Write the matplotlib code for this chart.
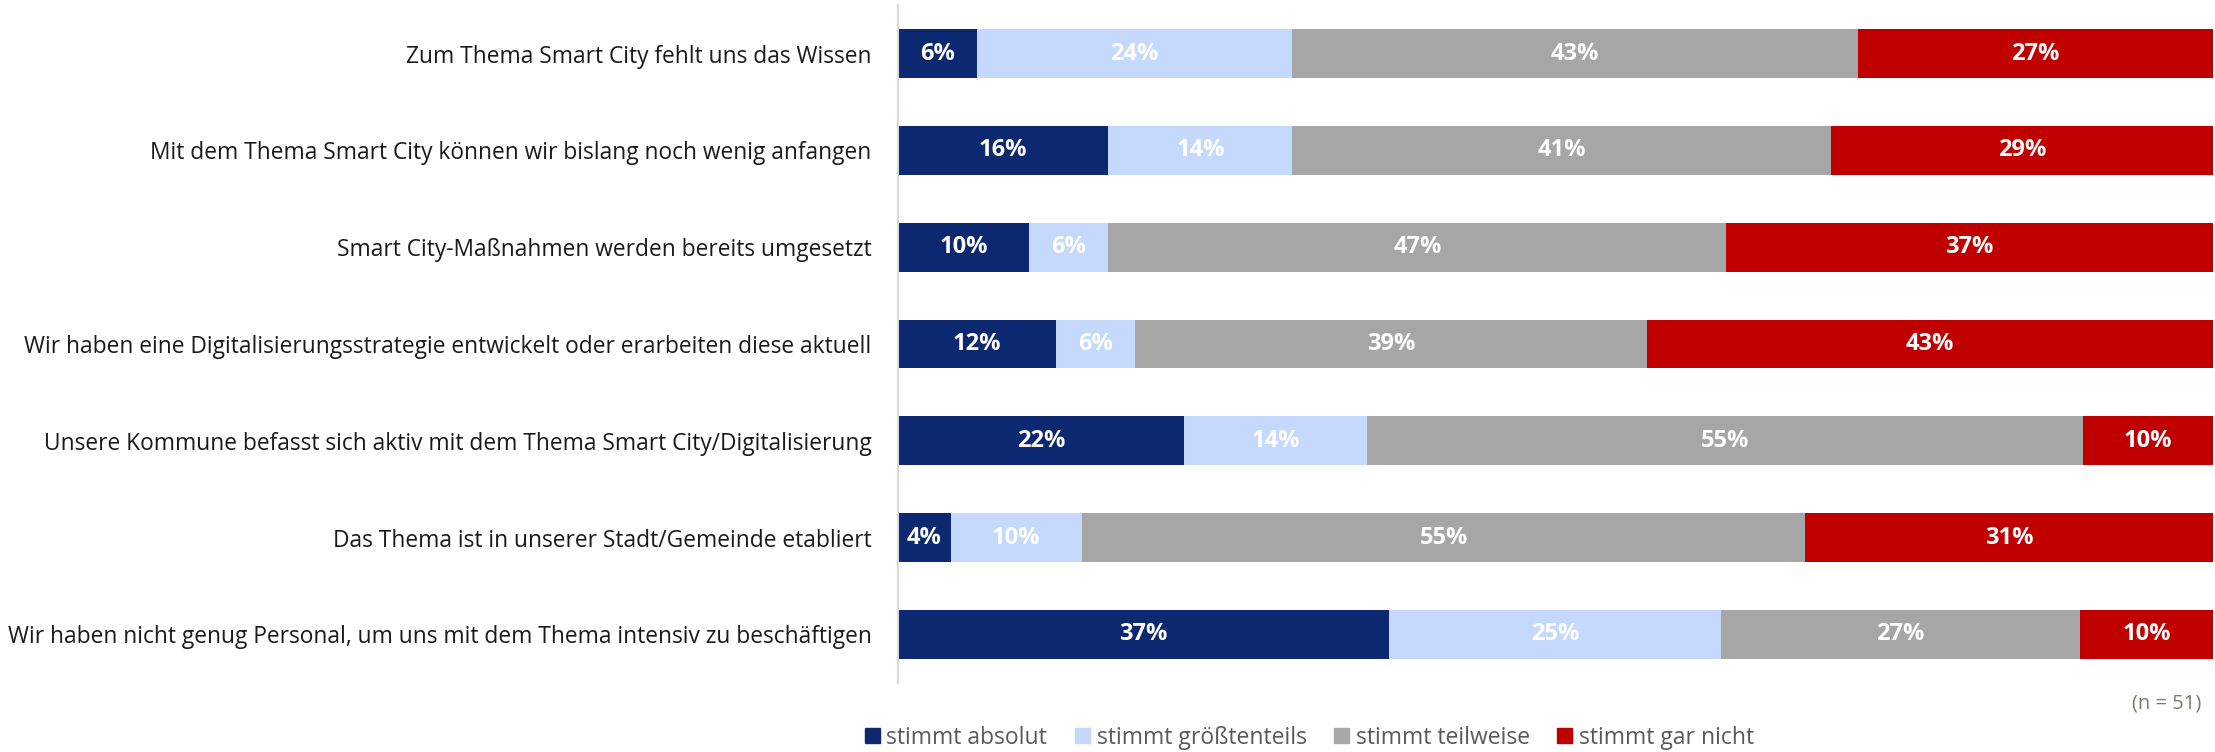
import numpy as np
import matplotlib.pyplot as plt
from matplotlib.patches import Patch

plt.rcParams['font.family'] = ['Open Sans', 'DejaVu Sans']

# Aussagen (von oben nach unten)
aussagen = [
    'Zum Thema Smart City fehlt uns das Wissen',
    'Mit dem Thema Smart City können wir bislang noch wenig anfangen',
    'Smart City-Maßnahmen werden bereits umgesetzt',
    'Wir haben eine Digitalisierungsstrategie entwickelt oder erarbeiten diese aktuell',
    'Unsere Kommune befasst sich aktiv mit dem Thema Smart City/Digitalisierung',
    'Das Thema ist in unserer Stadt/Gemeinde etabliert',
    'Wir haben nicht genug Personal, um uns mit dem Thema intensiv zu beschäftigen',
]
antworten = ['stimmt absolut', 'stimmt größtenteils', 'stimmt teilweise', 'stimmt gar nicht']

absolut = [6, 16, 10, 12, 22, 4, 37]
groesstenteils = [24, 14, 6, 6, 14, 10, 25]
teilweise = [43, 41, 47, 39, 55, 55, 27]
gar_nicht = [27, 29, 37, 43, 10, 31, 10]

farben = ['#0B2870', '#C5D9FC', '#A6A6A6', '#C00000']

werte = np.array([absolut, groesstenteils, teilweise, gar_nicht], dtype=float)
anteile = werte / werte.sum(axis=0) * 100  # Zeilen auf 100 % bringen

fig = plt.figure(figsize=(22.15, 7.52), dpi=100)
ax = fig.add_axes([0.4054, 0.092, 0.5936, 0.901])

y = np.arange(len(aussagen))
links = np.zeros(len(aussagen))
for k in range(4):
    ax.barh(y, anteile[k], left=links, height=0.505, color=farben[k], label=antworten[k])
    for i in range(len(aussagen)):
        ax.text(links[i] + anteile[k][i] / 2, y[i], '%d%%' % werte[k][i],
                ha='center', va='center', color='white', fontsize=17, fontweight='bold')
    links += anteile[k]

ax.set_xlim(0, 100)
ax.set_ylim(6.5, -0.5)
ax.set_yticks(y)
ax.set_yticklabels(aussagen, fontsize=16.4, color='#1a1a1a')
ax.tick_params(axis='y', length=0, pad=19)
ax.set_xticks([])
for s in ['top', 'right', 'bottom']:
    ax.spines[s].set_visible(False)
ax.spines['left'].set_color('#D9D9D9')
ax.spines['left'].set_linewidth(1.5)

handles = [Patch(color=farben[k], label=antworten[k]) for k in range(4)]
fig.legend(handles=handles, loc='center', bbox_to_anchor=(0.5912, 0.019), ncol=4,
           frameon=False, fontsize=16.5, labelcolor='#595959', handlelength=0.65,
           handleheight=0.65, handletextpad=0.3, columnspacing=1.2)

fig.text(0.994, 0.065, '(n = 51)', ha='right', va='center', fontsize=14.5, color='#857570')

fig.savefig('out.png', dpi=100)
